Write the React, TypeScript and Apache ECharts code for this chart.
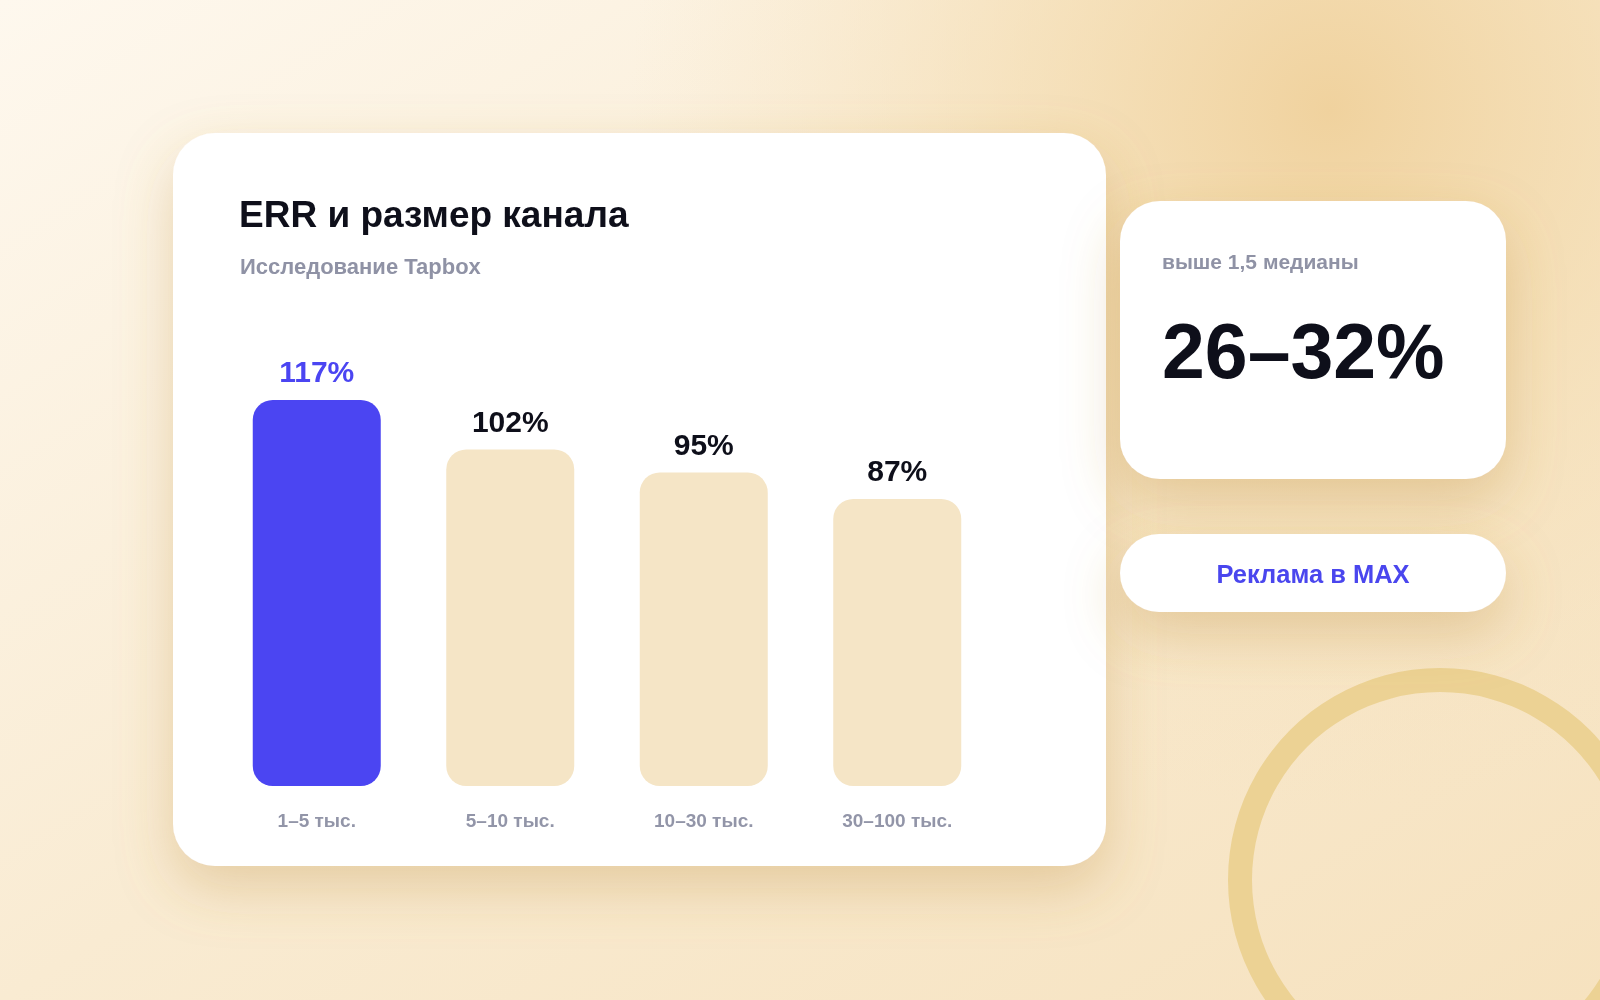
import React, { useEffect, useRef } from "react";
import * as echarts from "echarts";

const categories = ["1–5 тыс.", "5–10 тыс.", "10–30 тыс.", "30–100 тыс."];
const errValues = [117, 102, 95, 87];
const highlightIndex = 0;
const titleText = "ERR и размер канала";
const subtitleText = "Исследование Tapbox";
const sideCaption = "выше 1,5 медианы";
const sideValue = "26–32%";
const buttonText = "Реклама в MAX";

const FONT = "'Liberation Sans', Arial, Helvetica, sans-serif";
const BLUE = "#4b45f2";
const BEIGE = "#f5e5c6";
const DARK = "#0e0f1a";
const GRAY = "#8f92a5";

export default function App() {
  const ref = useRef<HTMLDivElement>(null);

  useEffect(() => {
    if (!ref.current) return;
    const chart = echarts.init(ref.current, undefined, { renderer: "svg" });

    const cardShadow = {
      shadowBlur: 55,
      shadowColor: "rgba(185, 135, 55, 0.3)",
      shadowOffsetY: 22,
    };

    chart.setOption({
      animation: false,
      grid: { left: 220, right: 606, top: 357, bottom: 214 },
      xAxis: {
        type: "category",
        data: categories,
        axisLine: { show: false },
        axisTick: { show: false },
        axisLabel: {
          color: "#9295a8",
          fontSize: 19,
          fontWeight: 600,
          fontFamily: FONT,
          margin: 25,
        },
      },
      yAxis: {
        type: "value",
        min: 0,
        max: 130,
        show: false,
        splitLine: { show: false },
      },
      series: [
        {
          type: "bar",
          barWidth: 128,
          data: errValues.map((v, i) => ({
            value: v,
            itemStyle: {
              color: i === highlightIndex ? BLUE : BEIGE,
              borderRadius: 20,
            },
            label: {
              color: i === highlightIndex ? BLUE : DARK,
            },
          })),
          label: {
            show: true,
            position: "top",
            distance: 13,
            formatter: "{c}%",
            fontSize: 30,
            fontWeight: "bold",
            fontFamily: FONT,
          },
        },
      ],
      graphic: [
        {
          type: "rect",
          z: -10,
          shape: { x: 0, y: 0, width: 1600, height: 1000 },
          style: {
            fill: new echarts.graphic.LinearGradient(0, 0, 1, 1, [
              { offset: 0, color: "#fef8ee" },
              { offset: 0.5, color: "#f9ebd2" },
              { offset: 1, color: "#f6e2bf" },
            ]),
          },
        },
        {
          type: "rect",
          z: -9,
          shape: { x: 0, y: 0, width: 1600, height: 1000 },
          style: {
            fill: new echarts.graphic.RadialGradient(1330, 110, 700, [
              { offset: 0, color: "rgba(240, 210, 158, 1)" },
              { offset: 0.45, color: "rgba(243, 218, 172, 0.6)" },
              { offset: 1, color: "rgba(246, 226, 190, 0)" },
            ], true),
          },
        },
        {
          type: "ring",
          z: -8,
          shape: { cx: 1440, cy: 880, r: 212, r0: 188 },
          style: { fill: "#ecd294" },
        },
        {
          type: "rect",
          z: -5,
          shape: { x: 173, y: 133, width: 933, height: 733, r: 42 },
          style: { fill: "#ffffff", ...cardShadow },
        },
        {
          type: "rect",
          z: -5,
          shape: { x: 1120, y: 201, width: 386, height: 278, r: 40 },
          style: { fill: "#ffffff", ...cardShadow },
        },
        {
          type: "rect",
          z: -5,
          shape: { x: 1120, y: 534, width: 386, height: 78, r: 39 },
          style: { fill: "#ffffff", ...cardShadow },
        },
        {
          type: "text",
          z: 5,
          x: 239,
          y: 214,
          style: {
            text: titleText,
            fill: DARK,
            fontSize: 37,
            fontWeight: "bold",
            fontFamily: FONT,
            textVerticalAlign: "middle",
          },
        },
        {
          type: "text",
          z: 5,
          x: 240,
          y: 266,
          style: {
            text: subtitleText,
            fill: GRAY,
            fontSize: 22,
            fontWeight: 600,
            fontFamily: FONT,
            textVerticalAlign: "middle",
          },
        },
        {
          type: "text",
          z: 5,
          x: 1162,
          y: 261,
          style: {
            text: sideCaption,
            fill: GRAY,
            fontSize: 21,
            fontWeight: 600,
            fontFamily: FONT,
            textVerticalAlign: "middle",
          },
        },
        {
          type: "text",
          z: 5,
          x: 1162,
          y: 351,
          style: {
            text: sideValue,
            fill: DARK,
            fontSize: 77,
            fontWeight: "bold",
            fontFamily: FONT,
            textVerticalAlign: "middle",
          },
        },
        {
          type: "text",
          z: 5,
          x: 1313,
          y: 574,
          style: {
            text: buttonText,
            fill: "#4a46ee",
            fontSize: 25.5,
            fontWeight: "bold",
            fontFamily: FONT,
            textAlign: "center",
            textVerticalAlign: "middle",
          },
        },
      ],
    });

    return () => chart.dispose();
  }, []);

  return (
    <div
      ref={ref}
      style={{ position: "fixed", left: 0, top: 0, width: 1600, height: 1000 }}
    />
  );
}
